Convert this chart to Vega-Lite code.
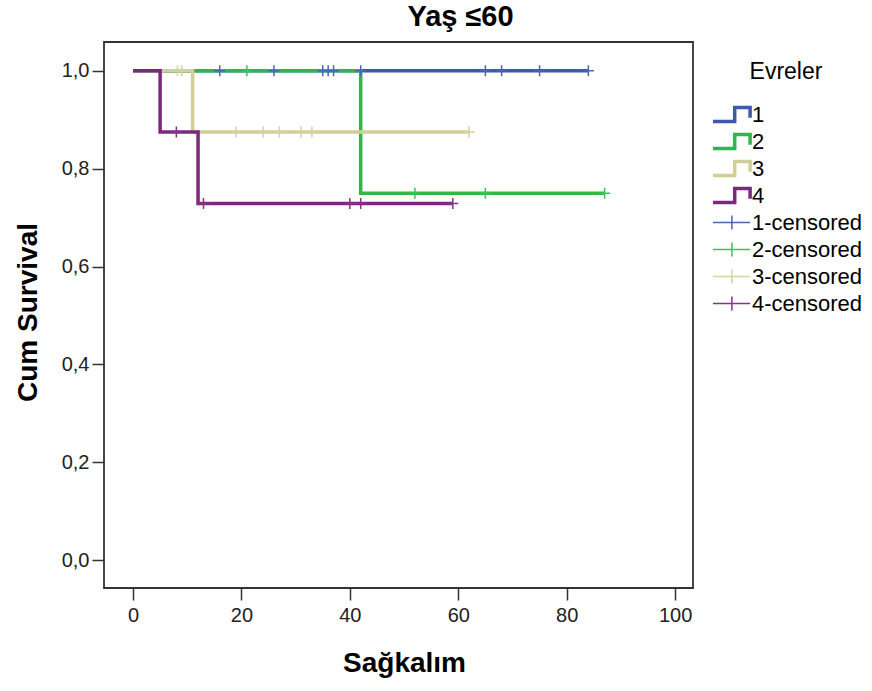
{
  "$schema": "https://vega.github.io/schema/vega-lite/v6.json",
  "width": 589,
  "height": 546,
  "autosize": "none",
  "padding": {"left": 104, "top": 42, "right": 179, "bottom": 103},
  "background": "white",
  "config": {
    "font": "Liberation Sans",
    "view": {"stroke": "#333333", "strokeWidth": 1.8},
    "legend": {
      "title": "Evreler",
      "orient": "none",
      "legendX": 605,
      "legendY": 18.5,
      "titleFontSize": 23,
      "titleFontWeight": "normal",
      "titleColor": "#000000",
      "titleAnchor": "middle",
      "titlePadding": 20,
      "labelFontSize": 22,
      "labelColor": "#000000",
      "labelOffset": 21,
      "symbolSize": 196,
      "clipHeight": 22,
      "rowPadding": 5
    }
  },
  "title": {
    "text": "Yaş ≤60",
    "fontSize": 29,
    "fontWeight": "bold",
    "font": "Liberation Sans",
    "color": "#000000",
    "anchor": "middle",
    "frame": "group",
    "dx": 62,
    "offset": 10
  },
  "datasets": {
    "curves": [
      {"key": "1", "t": 0, "s": 1},
      {"key": "1", "t": 84, "s": 1},
      {"key": "2", "t": 0, "s": 1},
      {"key": "2", "t": 42, "s": 0.75},
      {"key": "2", "t": 87, "s": 0.75},
      {"key": "3", "t": 0, "s": 1},
      {"key": "3", "t": 11, "s": 0.875},
      {"key": "3", "t": 62, "s": 0.875},
      {"key": "4", "t": 0, "s": 1},
      {"key": "4", "t": 5, "s": 0.875},
      {"key": "4", "t": 12, "s": 0.729},
      {"key": "4", "t": 59, "s": 0.729}
    ],
    "censored": [
      {"key": "1-censored", "t": 16, "s": 1},
      {"key": "1-censored", "t": 26, "s": 1},
      {"key": "1-censored", "t": 35, "s": 1},
      {"key": "1-censored", "t": 36, "s": 1},
      {"key": "1-censored", "t": 37, "s": 1},
      {"key": "1-censored", "t": 42, "s": 1},
      {"key": "1-censored", "t": 65, "s": 1},
      {"key": "1-censored", "t": 68, "s": 1},
      {"key": "1-censored", "t": 75, "s": 1},
      {"key": "1-censored", "t": 84, "s": 1},
      {"key": "2-censored", "t": 21, "s": 1},
      {"key": "2-censored", "t": 52, "s": 0.75},
      {"key": "2-censored", "t": 65, "s": 0.75},
      {"key": "2-censored", "t": 87, "s": 0.75},
      {"key": "3-censored", "t": 8.2, "s": 1},
      {"key": "3-censored", "t": 9, "s": 1},
      {"key": "3-censored", "t": 19, "s": 0.875},
      {"key": "3-censored", "t": 24, "s": 0.875},
      {"key": "3-censored", "t": 27, "s": 0.875},
      {"key": "3-censored", "t": 31, "s": 0.875},
      {"key": "3-censored", "t": 33, "s": 0.875},
      {"key": "3-censored", "t": 62, "s": 0.875},
      {"key": "4-censored", "t": 8, "s": 0.875},
      {"key": "4-censored", "t": 13, "s": 0.729},
      {"key": "4-censored", "t": 40, "s": 0.729},
      {"key": "4-censored", "t": 42, "s": 0.729},
      {"key": "4-censored", "t": 59, "s": 0.729}
    ]
  },
  "encoding": {
    "x": {
      "field": "t",
      "type": "quantitative",
      "scale": {"domain": [-5.35, 103.3], "nice": false, "zero": false},
      "axis": {
        "title": "Sağkalım",
        "values": [0, 20, 40, 60, 80, 100],
        "grid": false,
        "domain": false,
        "tickSize": 12,
        "tickWidth": 1.5,
        "tickColor": "#333333",
        "labelFontSize": 20,
        "labelColor": "#222222",
        "labelPadding": 5,
        "titleFontSize": 28,
        "titleFontWeight": "bold",
        "titleColor": "#000000",
        "titleAlign": "center",
        "titleBaseline": "middle",
        "titleX": 300,
        "titleY": 75
      }
    },
    "y": {
      "field": "s",
      "type": "quantitative",
      "scale": {"domain": [-0.057, 1.059], "nice": false, "zero": false},
      "axis": {
        "title": "Cum Survival",
        "values": [0, 0.2, 0.4, 0.6, 0.8, 1],
        "labelExpr": "replace(format(datum.value, '.1f'), '.', ',')",
        "grid": false,
        "domain": false,
        "tickSize": 12,
        "tickWidth": 1.5,
        "tickColor": "#333333",
        "labelFontSize": 20,
        "labelColor": "#222222",
        "labelPadding": 3,
        "titleFontSize": 28,
        "titleFontWeight": "bold",
        "titleColor": "#000000",
        "titleAngle": -90,
        "titleAlign": "center",
        "titleBaseline": "middle",
        "titleX": -76,
        "titleY": 270
      }
    },
    "color": {
      "field": "key",
      "type": "nominal",
      "scale": {
        "domain": ["1", "2", "3", "4", "1-censored", "2-censored", "3-censored", "4-censored"],
        "range": ["#3e58ac", "#2eb848", "#d3ce97", "#7c287d", "#4a64b8", "#3cc257", "#d6d1a0", "#86338a"]
      },
      "legend": {"title": "Evreler"}
    }
  },
  "layer": [
    {
      "data": {"name": "curves"},
      "mark": {"type": "line", "interpolate": "step-after", "strokeWidth": 3.5},
      "encoding": {"order": {"field": "t", "type": "quantitative"}}
    },
    {
      "data": {"name": "censored"},
      "mark": {
        "type": "point",
        "size": 121,
        "filled": false,
        "opacity": 1,
        "strokeWidth": 1.5,
        "shape": "M-1,0L1,0M0,-1L0,1"
      }
    },
    {
      "data": {"name": "censored"},
      "mark": {
        "type": "point",
        "size": 144,
        "filled": false,
        "strokeOpacity": 0,
        "fillOpacity": 0
      },
      "encoding": {
        "shape": {
          "field": "key",
          "type": "nominal",
          "scale": {
            "domain": ["1", "2", "3", "4", "1-censored", "2-censored", "3-censored", "4-censored"],
            "range": [
              "M-1,1L2.1,1L2.1,-1L4.3,-1L4.3,0.45L4.3,-1L2.1,-1L2.1,1Z",
              "M-1,1L2.1,1L2.1,-1L4.3,-1L4.3,0.45L4.3,-1L2.1,-1L2.1,1Z",
              "M-1,1L2.1,1L2.1,-1L4.3,-1L4.3,0.45L4.3,-1L2.1,-1L2.1,1Z",
              "M-1,1L2.1,1L2.1,-1L4.3,-1L4.3,0.45L4.3,-1L2.1,-1L2.1,1Z",
              "M-1,0L4.3,0M1.7,-1L1.7,1",
              "M-1,0L4.3,0M1.7,-1L1.7,1",
              "M-1,0L4.3,0M1.7,-1L1.7,1",
              "M-1,0L4.3,0M1.7,-1L1.7,1"
            ]
          },
          "legend": {"title": "Evreler"}
        },
        "strokeWidth": {
          "field": "key",
          "type": "nominal",
          "scale": {
            "type": "ordinal",
            "domain": ["1", "2", "3", "4", "1-censored", "2-censored", "3-censored", "4-censored"],
            "range": [3.5, 3.5, 3.5, 3.5, 1.5, 1.5, 1.5, 1.5]
          },
          "legend": {"title": "Evreler"}
        }
      }
    }
  ]
}
